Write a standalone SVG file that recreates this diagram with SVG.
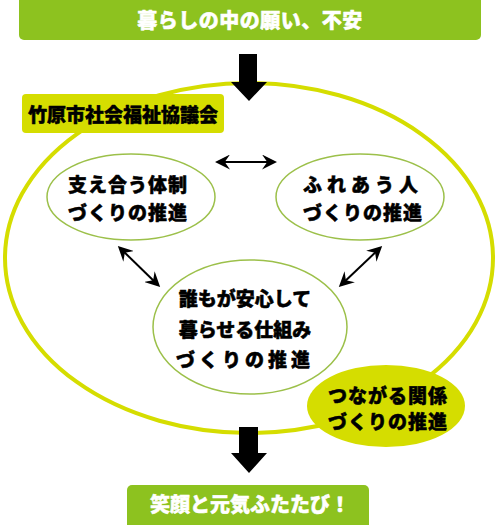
<svg xmlns="http://www.w3.org/2000/svg" width="500" height="525" viewBox="0 0 500 525">
<defs>
<style>
.t{font-family:"Noto Sans CJK JP","Noto Sans",sans-serif;font-weight:900;text-anchor:middle;dominant-baseline:central;stroke-width:0.5;stroke-linejoin:round}
.w{fill:#ffffff;stroke:#ffffff;font-size:20px}
.b{fill:#000000;stroke:#000000;font-size:19px}
.node{fill:#ffffff;stroke:#9cc04a;stroke-width:1.5}
.conn{stroke:#000;stroke-width:2;fill:none}
</style>
<marker id="ah" viewBox="0 0 10 10" refX="8" refY="5" markerWidth="7.5" markerHeight="7.5" orient="auto-start-reverse">
<path d="M0,0 L10,5 L0,10 L3.5,5 z" fill="#000"/>
</marker>
</defs>
<rect width="500" height="525" fill="#ffffff"/>
<g id="top-bar">
<rect x="19" y="-5" width="462" height="45" rx="5" fill="#8dc21f"/>
<text class="t w" x="250" y="19" letter-spacing="0.5">暮らしの中の願い、不安</text>
</g>
<g id="big-circle">
<ellipse cx="249" cy="258" rx="244" ry="175" fill="none" stroke="#d5dd00" stroke-width="4"/>
</g>
<g id="label">
<rect x="22" y="94" width="202" height="39" rx="4" fill="#d5dd00"/>
<text class="t b" x="123" y="113">竹原市社会福祉協議会</text>
</g>
<g id="connectors">
<path d="M239,54 H257 V82 H267 L249,101 L231,82 H239 Z" fill="#000"/>
<path d="M239,427 H258 V453 H267 L249,473 L231,453 H239 Z" fill="#000"/>
<line class="conn" x1="218" y1="162" x2="274" y2="162" marker-start="url(#ah)" marker-end="url(#ah)"/>
<line class="conn" x1="120" y1="248" x2="158" y2="285" marker-start="url(#ah)" marker-end="url(#ah)"/>
<line class="conn" x1="380" y1="248" x2="341" y2="285" marker-start="url(#ah)" marker-end="url(#ah)"/>
</g>
<g id="node-left">
<ellipse class="node" cx="131" cy="197" rx="84" ry="43"/>
<text class="t b" x="128" y="183" letter-spacing="1">支え合う体制</text>
<text class="t b" x="128" y="211" letter-spacing="1">づくりの推進</text>
</g>
<g id="node-right">
<ellipse class="node" cx="360" cy="197" rx="84" ry="43"/>
<text class="t b" x="363" y="183" letter-spacing="5">ふれあう人</text>
<text class="t b" x="363" y="211" letter-spacing="1">づくりの推進</text>
</g>
<g id="node-center">
<ellipse class="node" cx="250" cy="327" rx="97" ry="67"/>
<text class="t b" x="245" y="297">誰もが安心して</text>
<text class="t b" x="245" y="328">暮らせる仕組み</text>
<text class="t b" x="245" y="358" letter-spacing="4">づくりの推進</text>
</g>
<g id="node-yellow">
<ellipse cx="386" cy="406" rx="79" ry="41" fill="#d5dd00"/>
<text class="t b" x="388" y="394" letter-spacing="1">つながる関係</text>
<text class="t b" x="388" y="420" letter-spacing="1">づくりの推進</text>
</g>
<g id="bottom-bar">
<rect x="127" y="485" width="242" height="45" rx="5" fill="#8dc21f"/>
<text class="t w" x="250" y="503">笑顔と元気ふたたび！</text>
</g>
</svg>
